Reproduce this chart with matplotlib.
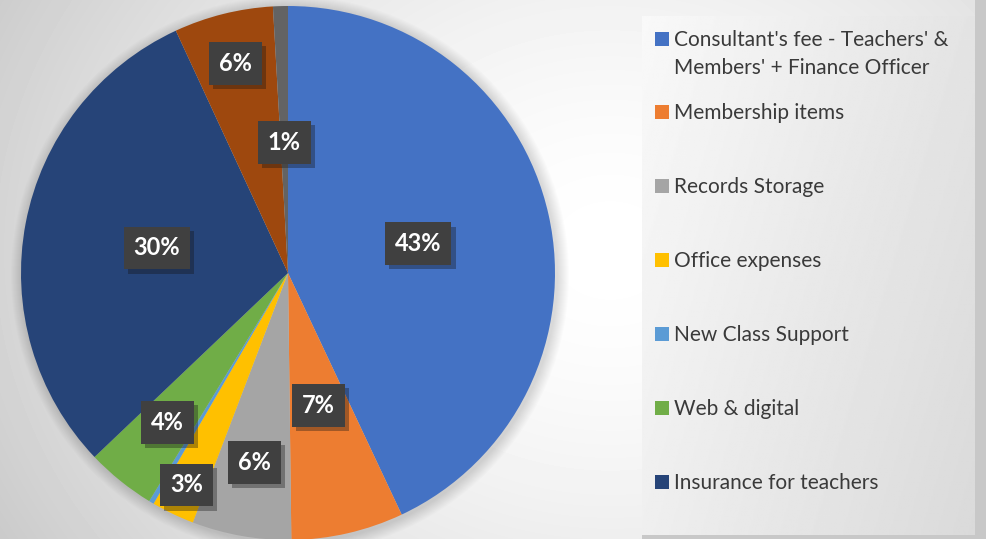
import numpy as np
import matplotlib.pyplot as plt
from matplotlib.patches import Rectangle, Circle
from matplotlib import patheffects as pe

# slices, clockwise from 12 o'clock (legend in the picture is cut off after 7 entries)
categories = ["Consultant's fee - Teachers' &\nMembers' + Finance Officer",
              "Membership items", "Records Storage", "Office expenses",
              "New Class Support", "Web & digital", "Insurance for teachers"]
values = [43.0, 6.8, 6.0, 2.6, 0.3, 4.2, 30.2, 6.0, 0.9]
colors = ["#4472C4", "#ED7D31", "#A5A5A5", "#FFC000", "#5B9BD5",
          "#70AD47", "#264478", "#9E480E", "#636363"]
# how far out (fraction of radius) each percent label sits
label_dist = [0.5, 0.51, 0.72, 0.88, 0.7, 0.72, 0.5, 0.81, 0.49]

W, H = 986, 539
plt.rcParams['font.family'] = ['Lato', 'DejaVu Sans']

fig = plt.figure(figsize=(W / 100, H / 100), dpi=100)
ax = fig.add_axes([0, 0, 1, 1])

# background: soft radial gradient, white near the middle right
xx, yy = np.meshgrid(np.arange(W), np.arange(H))
d = np.sqrt(((xx - 610) / 620.0) ** 2 + ((yy - 250) / 520.0) ** 2)
bg = 1 - 0.17 * np.clip(d, 0, 1.3) ** 1.6
ax.imshow(bg, extent=(0, W, 0, H), cmap='gray', vmin=0, vmax=1,
          origin='upper', zorder=0, aspect='auto')

cx, cy, R = 288, H - 273, 267

# faint glow around the pie
for k in range(12):
    ax.add_patch(Circle((cx + 2, cy - 2), R + 12 - k, color='#000000',
                        alpha=0.012, lw=0, zorder=1))

wedges, _ = ax.pie(values, colors=colors, startangle=90, counterclock=False,
                   radius=R, center=(cx, cy),
                   wedgeprops=dict(linewidth=0, zorder=2))

total = sum(values)
for w, v, dist in zip(wedges, values, label_dist):
    pct = round(v / total * 100)
    if pct == 0:
        continue
    th = np.deg2rad((w.theta1 + w.theta2) / 2)
    x = cx + R * dist * np.cos(th)
    y = cy + R * dist * np.sin(th)
    t = ax.text(x, y, f"{pct}%", color='white', fontsize=17, fontweight='bold',
                ha='center', va='center', zorder=5,
                bbox=dict(boxstyle='square,pad=0.42', fc='#404040', ec='none'))
    t.get_bbox_patch().set_path_effects(
        [pe.SimplePatchShadow(offset=(3, -3), alpha=0.35), pe.Normal()])

# legend panel with its shadow
ax.add_patch(Rectangle((975, 0), W - 975, H, color='#c8c8c8', lw=0, zorder=3))
ax.add_patch(Rectangle((642, 0), 333, H - 535, color='#c8c8c8', lw=0, zorder=3))
lx, ly = np.meshgrid(np.linspace(0, 1, 200), np.linspace(0, 1, 300))
lg = 0.975 - 0.11 * (0.75 * lx + 0.35 * ly)
ax.imshow(lg, extent=(642, 975, H - 535, H - 16), cmap='gray', vmin=0, vmax=1,
          origin='upper', zorder=3, aspect='auto')

legend_y = [39] + [112 + 74 * i for i in range(len(categories) - 1)]
for name, col, y in zip(categories, colors, legend_y):
    ax.add_patch(Rectangle((655, H - y - 7), 14, 14, color=col, lw=0, zorder=4))
    ax.text(674, H - y + 9, name, color='#3a3a3a', fontsize=15,
            ha='left', va='top', linespacing=1.5, zorder=4)

ax.set_xlim(0, W)
ax.set_ylim(0, H)
ax.set_aspect('auto')
ax.axis('off')

fig.savefig('out.png', dpi=100)
